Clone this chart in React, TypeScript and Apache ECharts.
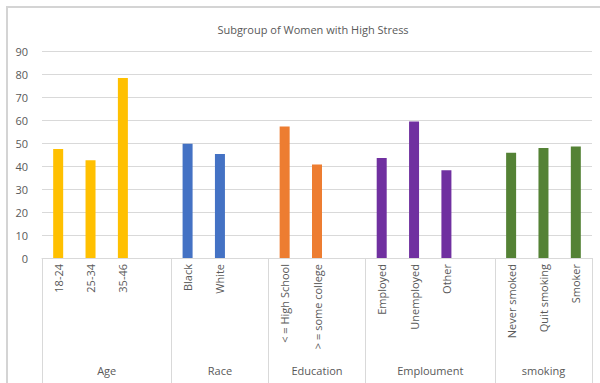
import React, { useEffect, useRef } from "react";
import * as echarts from "echarts";

const categories = [
  "18-24", "25-34", "35-46", "",
  "Black", "White", "",
  "< = High School", "> = some college", "",
  "Employed", "Unemployed", "Other", "",
  "Never smoked", "Quit smoking", "Smoker",
];
const values: (number | null)[] = [
  47.4, 42.5, 78.3, null,
  49.7, 45.2, null,
  57.2, 40.7, null,
  43.5, 59.4, 38.1, null,
  45.8, 47.8, 48.5,
];
const groupNames = ["Age", "Race", "Education", "Emploument", "smoking"];
const groupSizes = [4, 3, 3, 4, 3];
const groupColors = ["#FFC000", "#4472C4", "#ED7D31", "#7030A0", "#548235"];
const yTicks = { min: 0, max: 90, interval: 10 };
const title = "Subgroup of Women with High Stress";

export default function App() {
  const ref = useRef<HTMLDivElement>(null);
  useEffect(() => {
    if (!ref.current) return;
    const chart = echarts.init(ref.current, null, { renderer: "svg" });
    const colorOf: string[] = [];
    const boundaries: number[] = [0];
    const centers: number[] = [];
    let acc = 0;
    groupSizes.forEach((s, gi) => {
      for (let i = 0; i < s; i++) colorOf.push(groupColors[gi]);
      centers.push(acc + s / 2);
      acc += s;
      boundaries.push(acc);
    });
    const font = "'Open Sans', sans-serif";
    chart.setOption({
      animation: false,
      title: {
        text: title,
        left: 308,
        top: 19,
        textAlign: "center",
        textStyle: { fontSize: 11, fontWeight: "normal", color: "#595959", fontFamily: font },
      },
      graphic: [
        {
          type: "rect",
          shape: { x: 7, y: 7, width: 620, height: 420 },
          style: { fill: "none", stroke: "#d4d4d4", lineWidth: 2 },
          silent: true,
        },
      ],
      grid: { left: 42, right: 8, top: 51, bottom: 125 },
      xAxis: [
        {
          type: "category",
          data: categories,
          axisLine: { lineStyle: { color: "#d9d9d9" } },
          axisTick: { show: false },
          axisLabel: {
            rotate: 90,
            interval: 0,
            margin: 6,
            fontSize: 11,
            color: "#595959",
            fontFamily: font,
          },
        },
        {
          type: "value",
          min: 0,
          max: categories.length,
          position: "bottom",
          axisLine: { show: false },
          splitLine: { show: false },
          axisTick: {
            show: true,
            customValues: boundaries,
            length: 130,
            lineStyle: { color: "#d9d9d9" },
          },
          axisLabel: {
            customValues: centers,
            margin: 107,
            fontSize: 11,
            color: "#595959",
            fontFamily: font,
            formatter: (v: number) => {
              const i = centers.findIndex((c) => Math.abs(c - v) < 1e-6);
              return i >= 0 ? groupNames[i] : "";
            },
          },
        },
      ],
      yAxis: {
        type: "value",
        min: yTicks.min,
        max: yTicks.max,
        interval: yTicks.interval,
        axisLine: { show: false },
        axisTick: { show: false },
        splitLine: { lineStyle: { color: "#d9d9d9" } },
        axisLabel: { margin: 14, fontSize: 11, color: "#595959", fontFamily: font },
      },
      series: [
        {
          type: "bar",
          xAxisIndex: 0,
          barWidth: 10,
          data: values.map((v, i) => ({ value: v, itemStyle: { color: colorOf[i] } })),
        },
      ],
    });
    return () => chart.dispose();
  }, []);
  return <div ref={ref} style={{ width: 600, height: 383, position: "absolute", left: 0, top: 0 }} />;
}
